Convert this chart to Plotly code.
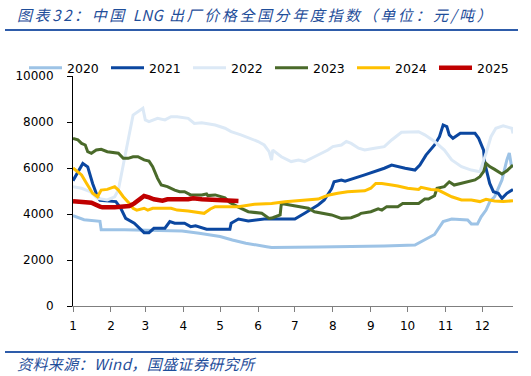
import plotly.graph_objects as go

# ---------------- data ----------------
years = ["2020", "2021", "2022", "2023", "2024", "2025"]

dates_2020 = ["01-01", "01-10", "01-23", "01-24", "02-12", "03-02", "03-18", "03-31", "04-14", "05-01",
              "05-11", "05-22", "06-08", "06-12", "07-20", "08-19", "09-12", "10-07", "10-12", "10-23",
              "10-30", "11-06", "11-19", "11-22", "11-27", "11-30", "12-04", "12-07", "12-11", "12-17",
              "12-21", "12-23", "12-25"]
vals_2020 = [3930, 3750, 3680, 3320, 3320, 3300, 3270, 3260, 3160, 3020,
             2870, 2730, 2580, 2540, 2560, 2580, 2610, 2650, 2800, 3110,
             3670, 3780, 3740, 3570, 3570, 3880, 4170, 4530, 4750, 5480,
             6350, 6650, 6000]

dates_2021 = ["01-01", "01-09", "01-13", "01-17", "01-21", "01-23", "02-05", "02-09", "02-13", "02-20",
              "02-28", "03-04", "03-08", "03-17", "03-21", "03-25", "04-02", "04-07", "04-11", "04-14",
              "04-20", "05-09", "05-10", "05-16", "05-24", "06-06", "07-01", "07-09", "07-20", "07-25",
              "07-31", "08-02", "08-08", "08-11", "08-19", "08-27", "09-12", "09-18", "09-29", "10-07",
              "10-11", "10-16", "10-23", "10-27", "10-30", "11-02", "11-04", "11-07", "11-13", "11-25",
              "11-28", "12-02", "12-03", "12-07", "12-10", "12-14", "12-17", "12-21", "12-26"]
vals_2021 = [5450, 6200, 6050, 5330, 4750, 4600, 4540, 4250, 3810, 3600,
             3190, 3190, 3380, 3380, 3670, 3600, 3600, 3450, 3490, 3450,
             3340, 3340, 3600, 3780, 3700, 3780, 3780, 4030, 4390, 4610,
             5100, 5400, 5480, 5430, 5550, 5700, 5990, 6130, 5990, 5910,
             6130, 6560, 7000, 7360, 7870, 7800, 7440, 7290, 7510, 7510,
             7290, 6780, 6200, 5330, 4970, 4900, 4680, 4900, 5070]

dates_2022 = ["01-01", "01-08", "01-15", "01-21", "01-29", "02-04", "02-07", "02-11", "02-15", "02-19",
              "02-23", "02-27", "03-01", "03-04", "03-11", "03-17", "03-22", "03-27", "04-05", "04-10",
              "04-16", "04-27", "05-05", "05-10", "05-18", "05-26", "06-01", "06-06", "06-10", "06-12",
              "06-13", "06-20", "06-28", "07-04", "07-09", "07-17", "07-23", "07-28", "08-01", "08-08",
              "08-12", "08-16", "08-22", "08-27", "09-04", "09-12", "09-18", "09-26", "10-10", "10-15",
              "10-23", "10-31", "11-06", "11-14", "11-22", "11-29", "12-04", "12-08", "12-12", "12-18",
              "12-25", "12-26"]
vals_2022 = [5190, 5120, 4970, 4680, 4610, 4750, 5040, 6060, 7220, 8300,
             8450, 8600, 8090, 8020, 8160, 8090, 8230, 8230, 8160, 7940,
             7970, 7870, 7730, 7580, 7440, 7290, 7150, 7000, 6710, 6350,
             6780, 6490, 6280, 6350, 6280, 6490, 6640, 6780, 6930, 7000,
             7150, 7070, 6860, 6780, 6860, 6930, 7220, 7550, 7580, 7440,
             7150, 6780, 6350, 6060, 5910, 5840, 6640, 7360, 7730, 7830,
             7730, 7500]

dates_2023 = ["01-01", "01-05", "01-08", "01-11", "01-13", "01-16", "01-20", "01-24", "01-29", "02-07",
              "02-11", "02-15", "02-19", "02-23", "02-28", "03-04", "03-07", "03-11", "03-14", "03-19",
              "03-25", "03-29", "04-02", "04-07", "04-16", "04-20", "04-21", "04-27", "05-05", "05-09",
              "05-16", "05-24", "06-04", "06-10", "06-13", "06-19", "06-20", "06-28", "07-06", "07-12",
              "07-17", "07-25", "07-31", "08-08", "08-16", "08-22", "08-24", "09-01", "09-07", "09-10",
              "09-14", "09-23", "09-27", "10-10", "10-15", "10-18", "10-23", "10-25", "10-31", "11-04",
              "11-08", "11-14", "11-19", "11-25", "11-29", "12-02", "12-04", "12-07", "12-11", "12-17",
              "12-21", "12-26"]
vals_2023 = [7290, 7220, 7070, 7000, 6710, 6640, 6780, 6810, 6710, 6640,
             6420, 6420, 6490, 6490, 6350, 6300, 6060, 5550, 5260, 5190,
             5040, 4970, 4970, 4830, 4830, 4870, 4800, 4830, 4700, 4500,
             4300, 4100, 4030, 3810, 3840, 3960, 4460, 4390, 4320, 4250,
             4100, 4030, 3960, 3810, 3840, 3960, 4030, 4100, 4220, 4170,
             4320, 4320, 4460, 4460, 4650, 4650, 4790, 5120, 5190, 5400,
             5260, 5340, 5400, 5480, 5620, 5840, 6200, 6060, 5940, 5740,
             5880, 6130]

dates_2024 = ["01-01", "01-05", "01-08", "01-12", "01-17", "01-21", "01-24", "01-29", "02-04", "02-07",
              "02-11", "02-16", "02-19", "02-22", "02-28", "03-03", "03-07", "03-22", "03-27", "04-05",
              "04-11", "04-18", "04-23", "04-27", "05-05", "05-16", "05-29", "06-12", "06-23", "07-09",
              "07-20", "07-25", "07-29", "08-05", "08-13", "08-27", "09-01", "09-05", "09-10", "09-18",
              "09-23", "10-01", "10-10", "10-12", "10-20", "10-26", "10-31", "11-06", "11-14", "11-22",
              "11-29", "12-04", "12-11", "12-18", "12-26"]
vals_2024 = [6000, 5840, 5700, 5340, 4900, 4750, 5040, 5070, 5190, 5040,
             4750, 4460, 4250, 4170, 4250, 4170, 4250, 4250, 4170, 4130,
             4070, 4030, 4220, 4320, 4320, 4320, 4420, 4460, 4530, 4610,
             4650, 4750, 4830, 4900, 4970, 5010, 5120, 5330, 5330, 5260,
             5220, 5120, 5070, 5160, 5070, 5040, 4900, 4750, 4610, 4610,
             4540, 4640, 4570, 4540, 4580]

dates_2025 = ["01-01", "01-08", "01-16", "01-23", "01-25", "02-04", "02-11", "02-16", "02-20", "02-24",
              "02-28", "03-04", "03-08", "03-15", "03-19", "04-05", "04-09", "04-16", "04-27", "05-05",
              "05-16"]
vals_2025 = [4550, 4530, 4490, 4320, 4290, 4290, 4320, 4350, 4460, 4610,
             4780, 4720, 4640, 4580, 4640, 4640, 4680, 4640, 4610, 4580,
             4560]

month_labels = ["1", "2", "3", "4", "5", "6", "7", "8", "9", "10", "11", "12"]
y_ticks = [0, 2000, 4000, 6000, 8000, 10000]
y_tick_labels = ["0", "2000", "4000", "6000", "8000", "10000"]

# ---------------- styling ----------------
series = [
    ("2020", dates_2020, vals_2020, "#9DC3E6", 3),
    ("2021", dates_2021, vals_2021, "#0B47A0", 3),
    ("2022", dates_2022, vals_2022, "#DCE9F6", 3),
    ("2023", dates_2023, vals_2023, "#4A6A2A", 3),
    ("2024", dates_2024, vals_2024, "#FFC000", 3),
    ("2025", dates_2025, vals_2025, "#C00000", 4.5),
]

BASE_YEAR = "2001-"
fig = go.Figure()
for name, d, v, color, w in series:
    fig.add_trace(go.Scatter(
        x=[BASE_YEAR + s for s in d], y=v, mode="lines", name=name,
        line=dict(color=color, width=w), hoverinfo="skip"))

FONT = "DejaVu Sans, Verdana, sans-serif"
px = lambda x: (x - 73) / 440.0
py = lambda y: (306 - y) / 230.0

fig.update_layout(
    width=531, height=376,
    margin=dict(l=73, r=18, t=76, b=70, autoexpand=False),
    paper_bgcolor="white", plot_bgcolor="white",
    showlegend=True,
    legend=dict(orientation="h", x=px(24), y=py(68), xanchor="left", yanchor="middle",
                font=dict(family=FONT, size=12.5, color="#000000"),
                entrywidth=34, entrywidthmode="pixels", itemwidth=33,
                bgcolor="rgba(0,0,0,0)", tracegroupgap=0),
    xaxis=dict(type="date", range=[BASE_YEAR + "01-01", BASE_YEAR + "12-26"],
               tickvals=[BASE_YEAR + "%02d-01" % (i + 1) for i in range(12)],
               ticktext=month_labels, showgrid=False, zeroline=False,
               showline=True, linecolor="#7F7F7F", linewidth=1,
               ticks="outside", ticklen=5, tickcolor="#7F7F7F", ticklabelstandoff=4,
               tickfont=dict(family=FONT, size=12, color="#000000")),
    yaxis=dict(range=[0, 10000], tickvals=y_ticks, ticktext=y_tick_labels,
               showgrid=False, zeroline=False,
               showline=True, linecolor="#000000", linewidth=1,
               ticks="outside", ticklen=5, tickcolor="#000000", ticklabelstandoff=11,
               tickfont=dict(family=FONT, size=12, color="#000000")),
)

TITLE_COLOR = "#1F4E9A"
fig.add_annotation(text="<i>图表32：中国 <span style=\"letter-spacing:0.3px\">LNG</span> 出厂价格全国分年度指数（单位：元/吨）</i>",
                   xref="paper", yref="paper", x=px(15), y=py(15), xanchor="left", yanchor="middle",
                   align="left", showarrow=False,
                   font=dict(family="Noto Sans CJK SC", size=15, color=TITLE_COLOR))
fig.add_annotation(text="<i>资料来源：Wind，国盛证券研究所</i>",
                   xref="paper", yref="paper", x=px(15), y=py(363), xanchor="left", yanchor="middle",
                   align="left", showarrow=False,
                   font=dict(family="Noto Sans CJK SC", size=15, color=TITLE_COLOR))
# separator lines (title rule and source rule)
fig.add_shape(type="line", xref="paper", yref="paper", x0=px(5), x1=px(518), y0=py(30), y1=py(30),
              line=dict(color="#2E5CAA", width=2))
fig.add_shape(type="line", xref="paper", yref="paper", x0=px(5), x1=px(518), y0=py(352), y1=py(352),
              line=dict(color="#2E5CAA", width=2))

# page margin reset + wider character tracking for the two report captions
POST = """
document.body.style.margin = '0';
var ann = document.querySelectorAll('.annotation-text');
var spacing = ['2.6px', '0.4px'];
for (var i = 0; i < ann.length && i < spacing.length; i++) {
  ann[i].style.letterSpacing = spacing[i];
}
"""
fig.write_html("out.html", config={"displayModeBar": False}, post_script=POST)
